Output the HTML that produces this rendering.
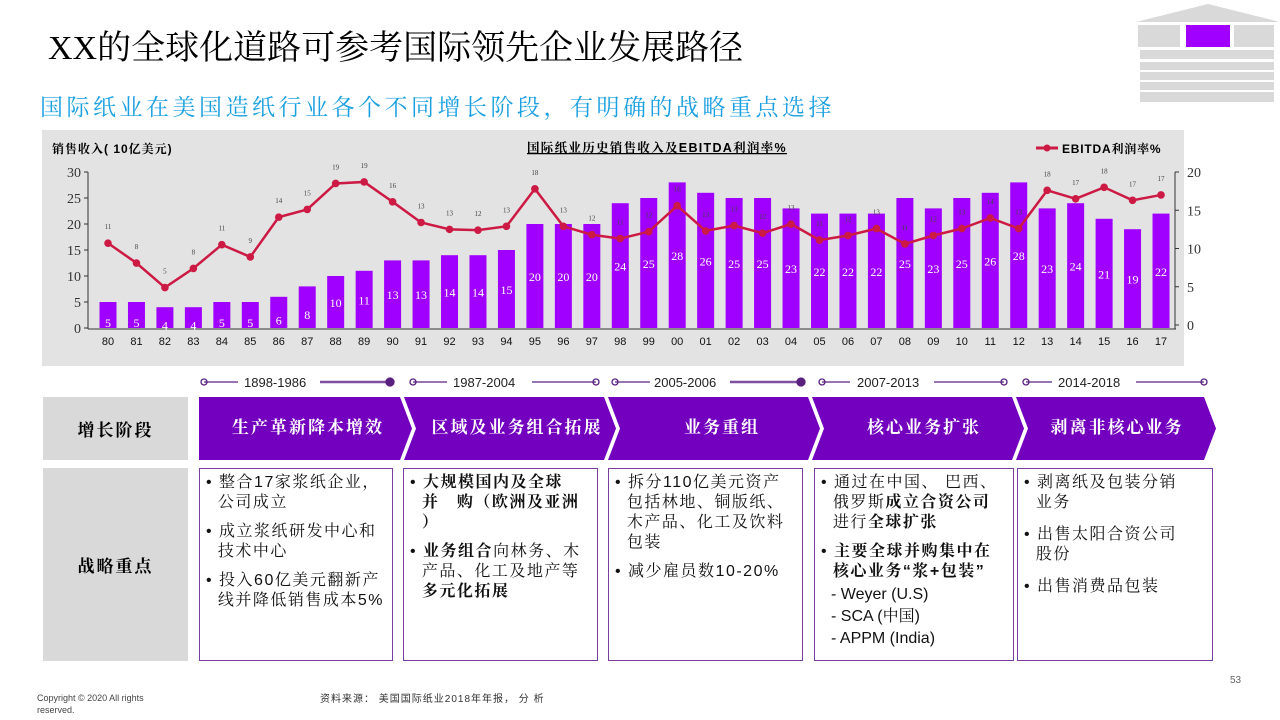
<!DOCTYPE html>
<html><head><meta charset="utf-8">
<style>
body{margin:0;width:1280px;height:720px;position:relative;background:#fff;font-family:"Liberation Sans","Noto Sans CJK SC",sans-serif;overflow:hidden}
.abs{position:absolute}
.title{left:48px;top:20px;font-size:34px;color:#000;font-family:"Liberation Serif","Noto Serif CJK SC",serif;white-space:nowrap}
.sub{left:40px;top:89px;font-size:23px;color:#1aa0e0;font-family:"Liberation Serif","Noto Serif CJK SC",serif;letter-spacing:3.5px;white-space:nowrap}
.gray{background:#d9d9d9;font-weight:bold;font-size:17px;display:flex;align-items:center;justify-content:center;font-family:"Liberation Serif","Noto Serif CJK SC",serif;letter-spacing:2px}
.box{border:1.5px solid #7a3fa0;box-sizing:border-box;font-size:16px;line-height:20px;padding:4px 4px 0 6px;color:#111;font-family:"Liberation Sans","Noto Serif CJK SC",serif;letter-spacing:1.5px;white-space:nowrap}
.box p{margin:0 0 9px 0}
</style></head><body>
<div class="abs title">XX的全球化道路可参考国际领先企业发展路径</div>
<div class="abs sub">国际纸业在美国造纸行业各个不同增长阶段，有明确的战略重点选择</div>

<svg class="abs" style="left:1128px;top:0" width="150" height="108">
<polygon points="8,22 80,4 152,22" fill="#d9d9d9"/>
<rect x="10" y="25" width="42" height="22" fill="#d9d9d9"/><rect x="58" y="25" width="44" height="22" fill="#a000ff"/><rect x="106" y="25" width="40" height="22" fill="#d9d9d9"/>
<rect x="12" y="50" width="134" height="9" fill="#d9d9d9"/><rect x="12" y="62" width="134" height="8" fill="#d9d9d9"/><rect x="12" y="72" width="134" height="8" fill="#d9d9d9"/><rect x="12" y="82" width="134" height="8" fill="#d9d9d9"/><rect x="12" y="92" width="134" height="10" fill="#d9d9d9"/>
</svg>

<svg id="chart" class="abs" style="left:0;top:0" width="1280" height="370"></svg>

<svg class="abs" style="left:0;top:372px" width="1280" height="20">
<g stroke="#5a2080" stroke-width="1.3" fill="none">
<line x1="204" y1="10" x2="238" y2="10"/><line x1="320" y1="10" x2="388" y2="10" stroke="#8050a0" stroke-width="2.5"/><circle cx="204" cy="10" r="3"/><circle cx="390" cy="10" fill="#5a2080" r="4"/>
<line x1="413" y1="10" x2="447" y2="10"/><line x1="532" y1="10" x2="596" y2="10"/><circle cx="413" cy="10" r="3"/><circle cx="596" cy="10" r="3"/>
<line x1="615" y1="10" x2="650" y2="10"/><line x1="730" y1="10" x2="798" y2="10" stroke="#8050a0" stroke-width="2.5"/><circle cx="615" cy="10" r="3"/><circle cx="801" cy="10" fill="#5a2080" r="4"/>
<line x1="822" y1="10" x2="850" y2="10"/><line x1="934" y1="10" x2="1004" y2="10"/><circle cx="822" cy="10" r="3"/><circle cx="1004" cy="10" r="3"/>
<line x1="1026" y1="10" x2="1052" y2="10"/><line x1="1136" y1="10" x2="1204" y2="10"/><circle cx="1026" cy="10" r="3"/><circle cx="1204" cy="10" r="3"/>
</g>
<g font-size="13" fill="#222" font-family="Liberation Sans,sans-serif">
<text x="244" y="15">1898-1986</text>
<text x="453" y="15">1987-2004</text>
<text x="654" y="15">2005-2006</text>
<text x="857" y="15">2007-2013</text>
<text x="1058" y="15">2014-2018</text>
</g></svg>

<div class="abs gray" style="left:43px;top:397px;width:145px;height:63px">增长阶段</div>
<div class="abs gray" style="left:43px;top:468px;width:145px;height:193px">战略重点</div>

<svg class="abs" style="left:0;top:397px" width="1280" height="64">
<g fill="#7300be">
<polygon points="199,0 400,0 412,31.5 400,63 199,63"/>
<polygon points="404,0 604,0 616,31.5 604,63 404,63 416,31.5"/>
<polygon points="608,0 808,0 820,31.5 808,63 608,63 620,31.5"/>
<polygon points="812,0 1012,0 1024,31.5 1012,63 812,63 824,31.5"/>
<polygon points="1016,0 1204,0 1216,31.5 1204,63 1016,63 1028,31.5"/>
</g>
<g fill="#fff" font-size="17" font-weight="bold" text-anchor="middle" letter-spacing="2" font-family="Liberation Serif,Noto Serif CJK SC,serif">
<text x="308" y="36">生产革新降本增效</text><text x="517" y="36">区域及业务组合拓展</text><text x="722" y="36">业务重组</text><text x="924" y="36">核心业务扩张</text><text x="1117" y="36">剥离非核心业务</text>
</g></svg>

<div class="abs box" style="left:199px;top:468px;width:194px;height:193px">
<p>• 整合17家浆纸企业，<br>&nbsp;&nbsp;公司成立</p><p>• 成立浆纸研发中心和<br>&nbsp;&nbsp;技术中心</p><p>• 投入60亿美元翻新产<br>&nbsp;&nbsp;线并降低销售成本5%</p></div>
<div class="abs box" style="left:403px;top:468px;width:195px;height:193px">
<p>• <b>大规模国内及全球<br>&nbsp;&nbsp;并　购（欧洲及亚洲<br>&nbsp;&nbsp;）</b></p><p>• <b>业务组合</b>向林务、木<br>&nbsp;&nbsp;产品、化工及地产等<br>&nbsp;&nbsp;<b>多元化拓展</b></p></div>
<div class="abs box" style="left:608px;top:468px;width:195px;height:193px">
<p>• 拆分110亿美元资产<br>&nbsp;&nbsp;包括林地、铜版纸、<br>&nbsp;&nbsp;木产品、化工及饮料<br>&nbsp;&nbsp;包装</p><p>• 减少雇员数10-20%</p></div>
<div class="abs box" style="left:814px;top:468px;width:200px;height:193px">
<p>• 通过在中国、 巴西、<br>&nbsp;&nbsp;俄罗斯<b>成立合资公司</b><br>&nbsp;&nbsp;进行<b>全球扩张</b></p><p style="margin-bottom:2px">• <b>主要全球并购集中在<br>&nbsp;&nbsp;核心业务“浆+包装”</b></p>
<div style="padding-left:10px;line-height:22px;letter-spacing:0">- Weyer (U.S)<br>- SCA (中国)<br>- APPM (India)</div></div>
<div class="abs box" style="left:1017px;top:468px;width:196px;height:193px">
<p style="margin-bottom:12px">• 剥离纸及包装分销<br>&nbsp;&nbsp;业务</p><p style="margin-bottom:12px">• 出售太阳合资公司<br>&nbsp;&nbsp;股份</p><p>• 出售消费品包装</p></div>

<div class="abs" style="left:37px;top:692px;font-size:9px;color:#444;line-height:12px">Copyright ©  2020   All rights<br>reserved.</div>
<div class="abs" style="left:320px;top:690px;font-size:10px;color:#333;letter-spacing:1px">资料来源： 美国国际纸业2018年年报， 分 析</div>
<div class="abs" style="left:1230px;top:675px;font-size:10px;color:#666">53</div>

<script>
const years=["80","81","82","83","84","85","86","87","88","89","90","91","92","93","94","95","96","97","98","99","00","01","02","03","04","05","06","07","08","09","10","11","12","13","14","15","16","17"];
const sales=[5,5,4,4,5,5,6,8,10,11,13,13,14,14,15,20,20,20,24,25,28,26,25,25,23,22,22,22,25,23,25,26,28,23,24,21,19,22];
const ebitda=[10.7,8.1,4.9,7.4,10.5,8.9,14.1,15.1,18.5,18.7,16.1,13.4,12.5,12.4,12.9,17.8,12.9,11.8,11.3,12.2,15.6,12.3,13.0,12.0,13.2,11.1,11.7,12.6,10.6,11.7,12.6,14.0,12.6,17.6,16.5,18.0,16.3,17.0];
const ebitdaLabels=[11,8,5,8,11,9,14,15,19,19,16,13,13,12,13,18,13,12,11,12,16,13,13,12,13,11,12,13,11,12,13,14,13,18,17,18,17,17];
const leftTicks=[0,5,10,15,20,25,30];
const rightTicks=[0,5,10,15,20];
const NS="http://www.w3.org/2000/svg";
const svg=document.getElementById('chart');
function el(t,a,txt){const e=document.createElementNS(NS,t);for(const k in a)e.setAttribute(k,a[k]);if(txt!==undefined)e.textContent=txt;svg.appendChild(e);return e;}
const xS=i=>108+i*28.46;
const yL=v=>328-v*5.2;
const yR=v=>325-v*7.65;
let bg=el('rect',{x:42,y:130,width:1142,height:236,fill:'#e3e3e3'});


let t=el('text',{x:52,y:153,'font-size':12,'font-weight':'bold','letter-spacing':1,'font-family':'Liberation Sans,Noto Serif CJK SC,serif'},'销售收入( 10亿美元)');


t=el('text',{x:527,y:152,'font-size':12.5,'font-weight':'bold','letter-spacing':1.3,'text-decoration':'underline','font-family':'Liberation Sans,Noto Serif CJK SC,serif'},'国际纸业历史销售收入及EBITDA利润率%');


el('line',{x1:1036,y1:148,x2:1058,y2:148,stroke:'#cc1a44','stroke-width':3});
el('circle',{cx:1047,cy:148,r:3.5,fill:'#cc1a44'});
t=el('text',{x:1062,y:153,'font-size':12,'font-weight':'bold','letter-spacing':0.8,'font-family':'Liberation Sans,Noto Serif CJK SC,serif'},'EBITDA利润率%');


el('line',{x1:88,y1:172,x2:88,y2:329,stroke:'#333'});
el('line',{x1:88,y1:329,x2:1176,y2:329,stroke:'#333'});
el('line',{x1:1175,y1:172,x2:1175,y2:329,stroke:'#333'});
leftTicks.forEach(v=>{el('line',{x1:84,y1:yL(v),x2:88,y2:yL(v),stroke:'#333'});
 const tx=el('text',{x:81,y:yL(v)+5,'font-size':14,'text-anchor':'end','font-family':'Liberation Serif,serif',fill:'#333'},v);
 
 });
rightTicks.forEach(v=>{el('line',{x1:1175,y1:yR(v),x2:1179,y2:yR(v),stroke:'#333'});
 const tx=el('text',{x:1187,y:yR(v)+5,'font-size':14,'font-family':'Liberation Serif,serif',fill:'#333'},v);
 
 });
sales.forEach((v,i)=>{const x=xS(i);
 const r=el('rect',{x:x-8.5,y:yL(v),width:17,height:yL(0)-yL(v),fill:'#a000ff'});
 
 
 el('text',{x:x,y:(yL(v)+yL(0))/2+(v<9?12:5),'font-size':12,'text-anchor':'middle',fill:'#fff','font-family':'Liberation Serif,serif'},v);
 const xl=el('text',{x:x,y:345,'font-size':11,'text-anchor':'middle',fill:'#111'},years[i]);
 
 });
const pts=ebitda.map((v,i)=>xS(i)+','+yR(v)).join(' ');
const pl=el('polyline',{points:pts,fill:'none',stroke:'#cc1a44','stroke-width':2.5});


ebitda.forEach((v,i)=>{const c=el('circle',{cx:xS(i),cy:yR(v),r:3.8,fill:'#cc1a44'});
 
 
 el('text',{x:xS(i),y:yR(v)-14,'font-size':7,'text-anchor':'middle',fill:'#444','font-family':'Liberation Serif,serif'},ebitdaLabels[i]);});
</script>
</body></html>
